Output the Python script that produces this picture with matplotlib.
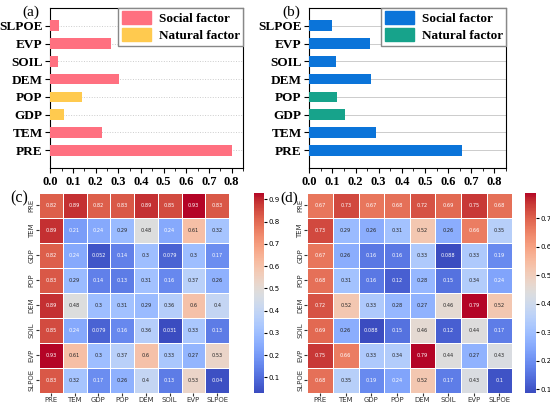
import matplotlib
matplotlib.use("Agg")
import matplotlib.pyplot as plt
import numpy as np
import seaborn as sns
from matplotlib.patches import Patch
from matplotlib.ticker import MultipleLocator

factors = ["PRE", "TEM", "GDP", "POP", "DEM", "SOIL", "EVP", "SLPOE"]

# q values
q_a = [0.80, 0.226, 0.059, 0.139, 0.304, 0.032, 0.266, 0.040]
q_b = [0.66, 0.287, 0.155, 0.120, 0.266, 0.117, 0.263, 0.099]
natural = ["GDP", "POP"]

# interaction heatmaps
inter_c = [
    [0.82, 0.89, 0.82, 0.83, 0.89, 0.85, 0.93, 0.83],
    [0.89, 0.21, 0.24, 0.29, 0.48, 0.24, 0.61, 0.32],
    [0.82, 0.24, 0.052, 0.14, 0.3, 0.079, 0.3, 0.17],
    [0.83, 0.29, 0.14, 0.13, 0.31, 0.16, 0.37, 0.26],
    [0.89, 0.48, 0.3, 0.31, 0.29, 0.36, 0.6, 0.4],
    [0.85, 0.24, 0.079, 0.16, 0.36, 0.031, 0.33, 0.13],
    [0.93, 0.61, 0.3, 0.37, 0.6, 0.33, 0.27, 0.53],
    [0.83, 0.32, 0.17, 0.26, 0.4, 0.13, 0.53, 0.04],
]
inter_d = [
    [0.67, 0.73, 0.67, 0.68, 0.72, 0.69, 0.75, 0.68],
    [0.73, 0.29, 0.26, 0.31, 0.52, 0.26, 0.66, 0.35],
    [0.67, 0.26, 0.16, 0.16, 0.33, 0.088, 0.33, 0.19],
    [0.68, 0.31, 0.16, 0.12, 0.28, 0.15, 0.34, 0.24],
    [0.72, 0.52, 0.33, 0.28, 0.27, 0.46, 0.79, 0.52],
    [0.69, 0.26, 0.088, 0.15, 0.46, 0.12, 0.44, 0.17],
    [0.75, 0.66, 0.33, 0.34, 0.79, 0.44, 0.27, 0.43],
    [0.68, 0.35, 0.19, 0.24, 0.52, 0.17, 0.43, 0.1],
]

W, H = 550, 405
SERIF = "Liberation Serif"


def px_axes(fig, x0, y0, x1, y1):
    return fig.add_axes([x0 / W, 1 - y1 / H, (x1 - x0) / W, (y1 - y0) / H])


def px_label(fig, x, y, s, size):
    fig.text(x / W, 1 - y / H, s, ha="center", va="center",
             fontfamily=SERIF, fontsize=size)


def bar_panel(ax, vals, c_social, c_natural, grid_ls):
    y = np.arange(len(factors))
    colors = [c_natural if f in natural else c_social for f in factors]
    ax.barh(y, vals, height=0.6, color=colors, zorder=3)
    ax.set_xlim(0, 0.85)
    ax.set_ylim(-1, 8)
    ax.set_yticks(y)
    ax.set_yticklabels(factors, fontfamily=SERIF, fontweight="bold", fontsize=9.5)
    ticks = np.arange(0, 0.81, 0.1)
    ax.set_xticks(ticks)
    ax.set_xticklabels([f"{v:.1f}" for v in ticks],
                       fontfamily=SERIF, fontweight="bold", fontsize=9)
    ax.xaxis.set_minor_locator(MultipleLocator(0.05))
    ax.tick_params(axis="both", which="major", length=3.5, width=0.8, pad=2)
    ax.tick_params(axis="x", which="minor", length=2, width=0.6)
    ax.grid(axis="y", color="#cccccc", ls=grid_ls, lw=0.7, zorder=0)
    for s in ax.spines.values():
        s.set_linewidth(0.8)
    handles = [Patch(color=c_social, label="Social factor"),
               Patch(color=c_natural, label="Natural factor")]
    ax.legend(handles=handles, loc="upper right", borderaxespad=0,
              prop={"family": SERIF, "weight": "bold", "size": 9.5},
              fancybox=False, edgecolor="#888888", framealpha=1,
              handlelength=2.2, handleheight=1.1, borderpad=0.25,
              labelspacing=0.25, handletextpad=0.6)


def heat_panel(fig, box, cbox, data):
    ax = px_axes(fig, *box)
    cax = px_axes(fig, *cbox)
    sns.heatmap(np.array(data), ax=ax, cbar_ax=cax, cmap="coolwarm",
                annot=True, annot_kws={"size": 3.6}, linewidths=0.5,
                linecolor="white", xticklabels=factors, yticklabels=factors)
    ax.tick_params(axis="both", labelsize=5, length=2, pad=1, colors="#333333")
    ax.set_xticklabels(factors, rotation=0, ha="center")
    ax.set_yticklabels(factors, rotation=90, va="center")
    cax.tick_params(labelsize=5, length=2, pad=1)


fig = plt.figure(figsize=(W / 100, H / 100), dpi=100)

ax_a = px_axes(fig, 50.3, 8, 243, 168)
bar_panel(ax_a, q_a, "#ff7080", "#ffca4f", ":")
ax_b = px_axes(fig, 309.3, 8, 506, 168)
bar_panel(ax_b, q_b, "#0b74d9", "#17a38b", "-")

heat_panel(fig, (39, 192.7, 229, 392.7), (254, 192.7, 264, 392.7), inter_c)
heat_panel(fig, (307.3, 192.7, 512.3, 392.7), (525, 192.7, 536, 392.7), inter_d)

px_label(fig, 31, 12, "(a)", 11)
px_label(fig, 291, 12, "(b)", 11)
px_label(fig, 19, 198, "(c)", 11.5)
px_label(fig, 289, 198, "(d)", 11)

fig.savefig("out.png", dpi=100)
